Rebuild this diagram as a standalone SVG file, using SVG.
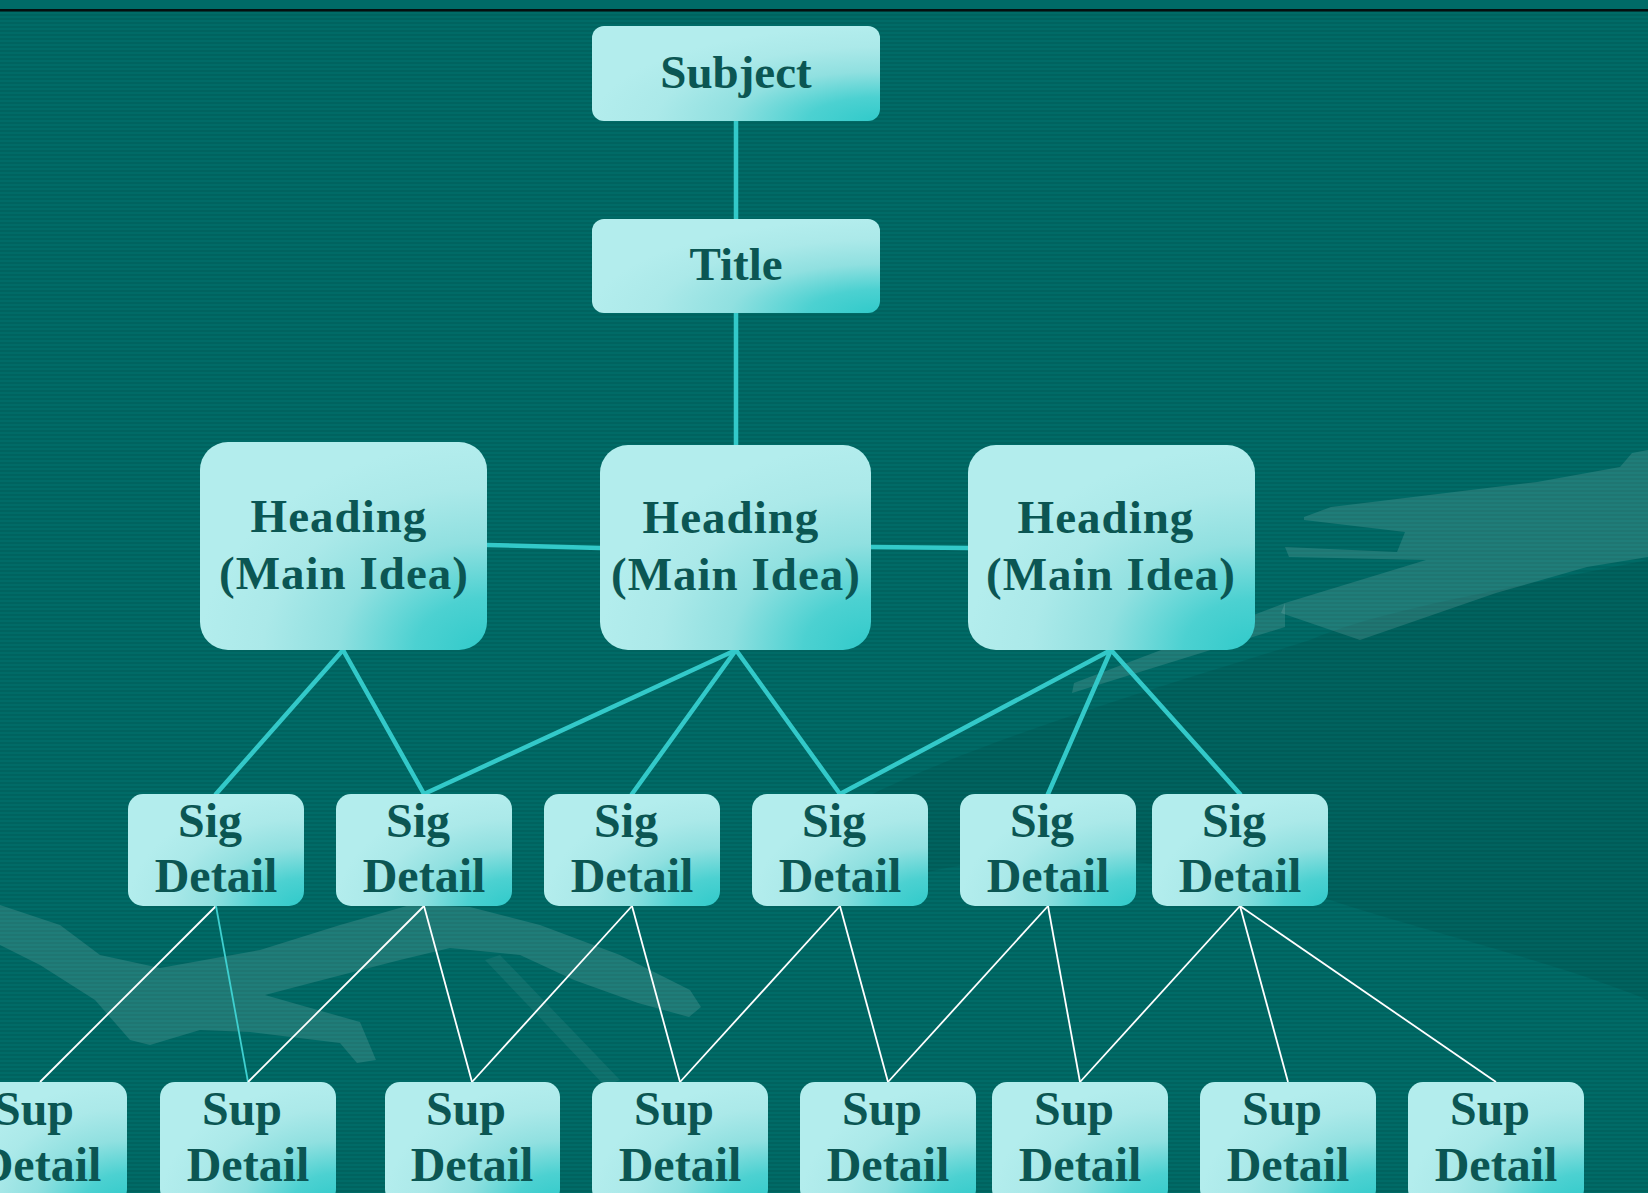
<svg xmlns="http://www.w3.org/2000/svg" width="1648" height="1193" viewBox="0 0 1648 1193">
<defs>
  <pattern id="stripes" width="8" height="4" patternUnits="userSpaceOnUse">
    <rect width="8" height="4" fill="#006b67"/>
    <rect y="2" width="8" height="2" fill="#00635f"/>
  </pattern>
  <radialGradient id="boxfill" cx="1" cy="1" r="1" fx="1" fy="1">
    <stop offset="0" stop-color="#30caca"/>
    <stop offset="0.25" stop-color="#4cd1d1"/>
    <stop offset="0.52" stop-color="#90e0e0"/>
    <stop offset="0.78" stop-color="#abe9e9"/>
    <stop offset="1" stop-color="#b3eded"/>
  </radialGradient>
  <style>
    .box { fill: url(#boxfill); }
    .t { font-family: "Liberation Serif", "Times New Roman", serif; font-weight: bold; fill: #0b5653; text-anchor: middle; }
    .big { font-size: 47px; }
    .sm { font-size: 48px; }
    .thick { stroke: #33c9c9; stroke-width: 4.5; fill: none; stroke-linecap: round; }
    .thin { stroke: #ffffff; stroke-width: 1.8; fill: none; }
    .thinteal { stroke: #3fd0d0; stroke-width: 1.8; fill: none; }
    .deco { fill: #ffffff; fill-opacity: 0.12; }
    .decofaint { fill: #ffffff; fill-opacity: 0.06; }
    .dark { fill: #000000; fill-opacity: 0.07; }
  </style>
</defs>

<!-- background -->
<rect width="1648" height="1193" fill="url(#stripes)"/>
<rect x="0" y="0" width="1648" height="9" fill="#006b67"/>
<rect x="0" y="9" width="1648" height="2.5" fill="#050f0f"/>

<!-- background decoration -->
<g id="decoration">
  <path class="dark" d="M1310,640 C1380,610 1500,590 1648,560 L1648,1000 C1550,960 1420,930 1330,900 C1200,860 1020,840 900,880 C820,900 780,850 860,800 C980,740 1150,690 1310,640 Z"/>
  <path class="deco" d="M1304,517 L1331,507 L1537,482 L1620,467 L1632,453 L1648,450 L1648,557 L1587,567 L1496,593 L1360,640 L1281,613 L1285,603 L1426,560 L1289,557 L1285,547 L1397,552 L1405,532 L1304,520 Z"/>
  <path class="deco" d="M1285,603 L1074,683 L1072,693 L1285,627 Z"/>
  <path class="deco" d="M0,905 L60,925 L100,955 L160,968 L260,950 L340,925 L410,905 L470,907 L540,925 L620,955 L690,990 L701,1007 L689,1017 L638,1003 L574,980 L520,955 L450,948 L400,960 L330,978 L265,995 L300,1005 L360,1022 L376,1060 L357,1063 L340,1043 L250,1032 L200,1030 L150,1045 L130,1040 L95,1000 L40,965 L0,945 Z"/>
  <path class="decofaint" d="M485,960 L500,955 L620,1080 L605,1086 Z"/>
</g>

<!-- connectors -->
<g id="connectors">
  <line class="thick" x1="736" y1="121" x2="736" y2="219"/>
  <line class="thick" x1="736" y1="313" x2="736" y2="445"/>
  <line class="thick" x1="487" y1="545" x2="600" y2="548"/>
  <line class="thick" x1="871" y1="547" x2="968" y2="548"/>
  <line class="thick" x1="343" y1="650" x2="216" y2="794"/>
  <line class="thick" x1="343" y1="650" x2="424" y2="794"/>
  <line class="thick" x1="736" y1="650" x2="424" y2="794"/>
  <line class="thick" x1="736" y1="650" x2="632" y2="794"/>
  <line class="thick" x1="736" y1="650" x2="840" y2="794"/>
  <line class="thick" x1="1111" y1="650" x2="840" y2="794"/>
  <line class="thick" x1="1111" y1="650" x2="1048" y2="794"/>
  <line class="thick" x1="1111" y1="650" x2="1240" y2="794"/>
  <line class="thin" x1="216" y1="906" x2="40" y2="1082"/>
  <line class="thinteal" x1="216" y1="906" x2="248" y2="1082"/>
  <line class="thin" x1="424" y1="906" x2="248" y2="1082"/>
  <line class="thin" x1="424" y1="906" x2="472" y2="1082"/>
  <line class="thin" x1="632" y1="906" x2="472" y2="1082"/>
  <line class="thin" x1="632" y1="906" x2="680" y2="1082"/>
  <line class="thin" x1="840" y1="906" x2="680" y2="1082"/>
  <line class="thin" x1="840" y1="906" x2="888" y2="1082"/>
  <line class="thin" x1="1048" y1="906" x2="888" y2="1082"/>
  <line class="thin" x1="1048" y1="906" x2="1080" y2="1082"/>
  <line class="thin" x1="1240" y1="906" x2="1080" y2="1082"/>
  <line class="thin" x1="1240" y1="906" x2="1288" y2="1082"/>
  <line class="thin" x1="1240" y1="906" x2="1496" y2="1082"/>
</g>

<!-- nodes -->
<g id="subject">
  <rect class="box" x="592" y="26" width="288" height="95" rx="12"/>
  <text class="t big" x="736" y="88">Subject</text>
</g>
<g id="title">
  <rect class="box" x="592" y="219" width="288" height="94" rx="12"/>
  <text class="t big" x="736" y="280">Title</text>
</g>

<g id="heading1">
  <rect class="box" x="200" y="442" width="287" height="208" rx="28"/>
  <text class="t big" x="339" y="532" letter-spacing="1">Heading</text>
  <text class="t big" x="344" y="589" letter-spacing="1">(Main Idea)</text>
</g>
<g id="heading2">
  <rect class="box" x="600" y="445" width="271" height="205" rx="28"/>
  <text class="t big" x="731" y="533" letter-spacing="1">Heading</text>
  <text class="t big" x="736" y="590" letter-spacing="1">(Main Idea)</text>
</g>
<g id="heading3">
  <rect class="box" x="968" y="445" width="287" height="205" rx="28"/>
  <text class="t big" x="1106" y="533" letter-spacing="1">Heading</text>
  <text class="t big" x="1111" y="590" letter-spacing="1">(Main Idea)</text>
</g>

<g id="sig1">
  <rect class="box" x="128" y="794" width="176" height="112" rx="15"/>
  <text class="t sm" x="210" y="837">Sig</text>
  <text class="t sm" x="216" y="892">Detail</text>
</g>
<g id="sig2">
  <rect class="box" x="336" y="794" width="176" height="112" rx="15"/>
  <text class="t sm" x="418" y="837">Sig</text>
  <text class="t sm" x="424" y="892">Detail</text>
</g>
<g id="sig3">
  <rect class="box" x="544" y="794" width="176" height="112" rx="15"/>
  <text class="t sm" x="626" y="837">Sig</text>
  <text class="t sm" x="632" y="892">Detail</text>
</g>
<g id="sig4">
  <rect class="box" x="752" y="794" width="176" height="112" rx="15"/>
  <text class="t sm" x="834" y="837">Sig</text>
  <text class="t sm" x="840" y="892">Detail</text>
</g>
<g id="sig5">
  <rect class="box" x="960" y="794" width="176" height="112" rx="15"/>
  <text class="t sm" x="1042" y="837">Sig</text>
  <text class="t sm" x="1048" y="892">Detail</text>
</g>
<g id="sig6">
  <rect class="box" x="1152" y="794" width="176" height="112" rx="15"/>
  <text class="t sm" x="1234" y="837">Sig</text>
  <text class="t sm" x="1240" y="892">Detail</text>
</g>

<g id="sup1">
  <rect class="box" x="-48" y="1082" width="175" height="122" rx="15"/>
  <text class="t sm" x="34" y="1125">Sup</text>
  <text class="t sm" x="40" y="1181">Detail</text>
</g>
<g id="sup2">
  <rect class="box" x="160" y="1082" width="176" height="122" rx="15"/>
  <text class="t sm" x="242" y="1125">Sup</text>
  <text class="t sm" x="248" y="1181">Detail</text>
</g>
<g id="sup3">
  <rect class="box" x="385" y="1082" width="175" height="122" rx="15"/>
  <text class="t sm" x="466" y="1125">Sup</text>
  <text class="t sm" x="472" y="1181">Detail</text>
</g>
<g id="sup4">
  <rect class="box" x="592" y="1082" width="176" height="122" rx="15"/>
  <text class="t sm" x="674" y="1125">Sup</text>
  <text class="t sm" x="680" y="1181">Detail</text>
</g>
<g id="sup5">
  <rect class="box" x="800" y="1082" width="176" height="122" rx="15"/>
  <text class="t sm" x="882" y="1125">Sup</text>
  <text class="t sm" x="888" y="1181">Detail</text>
</g>
<g id="sup6">
  <rect class="box" x="992" y="1082" width="176" height="122" rx="15"/>
  <text class="t sm" x="1074" y="1125">Sup</text>
  <text class="t sm" x="1080" y="1181">Detail</text>
</g>
<g id="sup7">
  <rect class="box" x="1200" y="1082" width="176" height="122" rx="15"/>
  <text class="t sm" x="1282" y="1125">Sup</text>
  <text class="t sm" x="1288" y="1181">Detail</text>
</g>
<g id="sup8">
  <rect class="box" x="1408" y="1082" width="176" height="122" rx="15"/>
  <text class="t sm" x="1490" y="1125">Sup</text>
  <text class="t sm" x="1496" y="1181">Detail</text>
</g>
</svg>
